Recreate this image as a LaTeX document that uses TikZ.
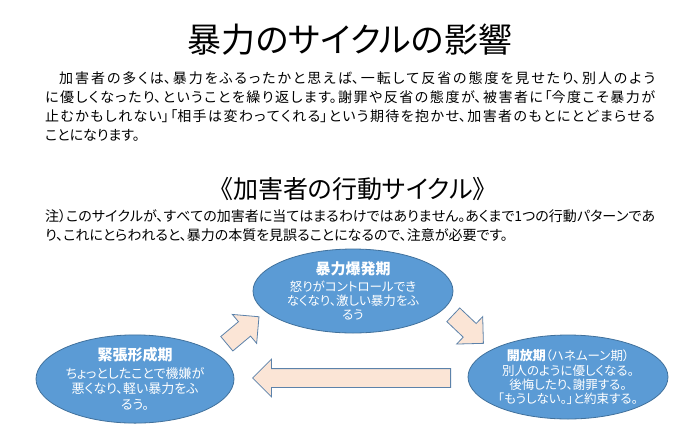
\documentclass[tikz,border=0pt]{standalone}
\usepackage{fontspec}
\setmainfont{Noto Sans CJK JP}[RawFeature={+palt}]
\usetikzlibrary{shapes.geometric,shapes.arrows}
\XeTeXlinebreaklocale "ja"
\XeTeXlinebreakskip=0pt plus 2pt minus 0.2pt
\definecolor{phasefill}{RGB}{91,155,213}
\definecolor{phaseline}{RGB}{65,113,156}
\definecolor{arrowfill}{RGB}{251,229,214}
\definecolor{arrowline}{RGB}{92,130,170}

\begin{document}
\begin{tikzpicture}[x=1pt,y=-1pt,
  phase/.style={ellipse,draw=phaseline,fill=phasefill,line width=0.8pt,inner sep=0pt,text=white,align=center,font=\fontsize{12.5}{14}\selectfont},
  cyclearrow/.style={single arrow,draw=arrowline,fill=arrowfill,line width=0.8pt,inner xsep=0pt,inner ysep=9pt,minimum width=37pt,single arrow head extend=9.5pt,single arrow tip angle=90,anchor=tail}]
\useasboundingbox (0,0) rectangle (700,439);
% headings:
\node (title) at (350,40) {\fontsize{34}{40}\selectfont 暴力のサイクルの影響};
\node[anchor=north west,inner sep=0pt,text width=610pt,align=justify,font=\fontsize{14}{19}\selectfont] (intro) at (45,71) {\noindent\hspace*{14pt}加害者の多くは、暴力をふるったかと思えば、一転して反省の態度を見せたり、別人のよう\linebreak に優しくなったり、ということを繰り返します。謝罪や反省の態度が、被害者に「今度こそ暴力が\linebreak 止むかもしれない」「相手は変わってくれる」という期待を抱かせ、加害者のもとにとどまらせる\linebreak ことになります。};
\node (cycletitle) at (353,189) {\fontsize{25}{30}\selectfont 《加害者の行動サイクル》};
\node[anchor=north west,inner sep=0pt,text width=610pt,align=justify,font=\fontsize{14}{19}\selectfont] (note) at (45,209) {\noindent 注）このサイクルが、すべての加害者に当てはまるわけではありません。あくまで1つの行動パターンであ\linebreak り、これにとらわれると、暴力の本質を見誤ることになるので、注意が必要です。};
% block arrows:
\node[cyclearrow,minimum height=42pt,rotate=40] (rise) at (226.5,344) {};
\node[cyclearrow,minimum height=41.5pt,rotate=-43.5] (release) at (453,314.5) {};
\node[cyclearrow,minimum height=198pt,rotate=180] (back) at (451,378) {};
% phases:
\node[phase,minimum width=200pt,minimum height=84pt] (burst) at (353,291) {{\fontsize{15}{17}\selectfont\bfseries 暴力爆発期}\\[3pt]怒りがコントロールでき\\なくなり、激しい暴力をふ\\るう};
\node[phase,minimum width=198pt,minimum height=80pt,font=\fontsize{13}{15.5}\selectfont] (tension) at (135,379) {{\fontsize{15}{17}\selectfont\bfseries 緊張形成期}\\[2pt]ちょっとしたことで機嫌が\\悪くなり、軽い暴力をふ\\るう。};
\node[phase,minimum width=200pt,minimum height=84pt] (honeymoon) at (568,377) {{\fontsize{13}{15}\selectfont\bfseries 開放期}（ハネムーン期）\\[1pt]別人のように優しくなる。\\後悔したり、謝罪する。\\「もうしない。」と約束する。};
\end{tikzpicture}
\end{document}
